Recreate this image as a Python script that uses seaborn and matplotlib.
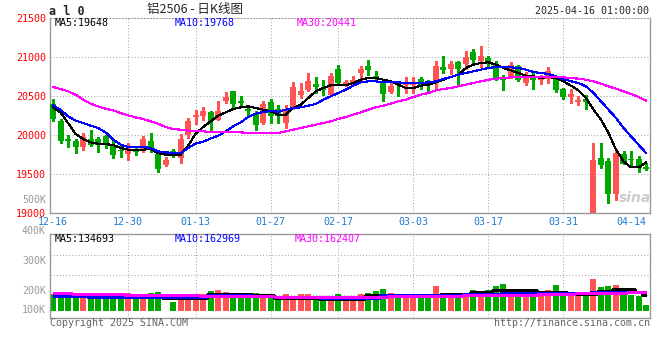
import matplotlib
matplotlib.use("Agg")
import matplotlib.pyplot as plt
import seaborn as sns
import pandas as pd

# trading days shown on the chart (MM-DD)
dates = ["12-16", "12-17", "12-18", "12-19", "12-20", "12-23", "12-24", "12-25", "12-26", "12-27",
         "12-30", "12-31", "01-02", "01-03", "01-06", "01-07", "01-08", "01-09", "01-10", "01-13",
         "01-14", "01-15", "01-16", "01-17", "01-20", "01-21", "01-22", "01-23", "01-24", "01-27",
         "02-05", "02-06", "02-07", "02-10", "02-11", "02-12", "02-13", "02-14", "02-17", "02-18",
         "02-19", "02-20", "02-21", "02-24", "02-25", "02-26", "02-27", "02-28", "03-03", "03-04",
         "03-05", "03-06", "03-07", "03-10", "03-11", "03-12", "03-13", "03-14", "03-17", "03-18",
         "03-19", "03-20", "03-21", "03-24", "03-25", "03-26", "03-27", "03-28", "03-31", "04-01",
         "04-02", "04-03", "04-07", "04-08", "04-09", "04-10", "04-11", "04-14", "04-15", "04-16"]

opens = [20400, 20175, 19955, 19925, 19840, 19955, 19955, 19985, 19875, 19810,
         19760, 19810, 19800, 19925, 19755, 19620, 19790, 19705, 20005, 20225,
         20250, 20290, 20195, 20430, 20560, 20440, 20335, 20280, 20155, 20425,
         20335, 20155, 20335, 20515, 20580, 20655, 20605, 20515, 20850, 20645,
         20665, 20795, 20880, 20760, 20690, 20550, 20665, 20635, 20645, 20720,
         20675, 20665, 20870, 20850, 20930, 20915, 21065, 20945, 20985, 20915,
         20720, 20750, 20880, 20665, 20760, 20700, 20720, 20720, 20590, 20485,
         20425, 20460, 18950, 19710, 19670, 19240, 19755, 19690, 19690, 19595]
highs = [20460, 20210, 20005, 19955, 20025, 20060, 19970, 20005, 19920, 19865,
         19895, 19845, 19990, 20025, 19770, 19720, 19825, 20015, 20220, 20325,
         20365, 20305, 20430, 20545, 20560, 20495, 20380, 20305, 20430, 20460,
         20390, 20390, 20680, 20665, 20795, 20740, 20700, 20795, 20895, 20710,
         20760, 20880, 20965, 20815, 20710, 20680, 20690, 20740, 20740, 20740,
         20710, 20955, 21010, 20955, 20955, 21075, 21105, 21135, 21015, 20945,
         20775, 20930, 20900, 20805, 20795, 20775, 20870, 20745, 20605, 20590,
         20495, 20515, 19900, 19900, 19705, 19815, 19790, 19790, 19725, 19635]
lows = [20175, 19895, 19840, 19770, 19810, 19865, 19780, 19830, 19705, 19720,
        19685, 19740, 19780, 19780, 19525, 19605, 19720, 19640, 19960, 20145,
        20195, 20035, 20195, 20410, 20335, 20365, 20250, 20060, 20145, 20160,
        20155, 20090, 20335, 20475, 20560, 20540, 20515, 20515, 20645, 20625,
        20635, 20690, 20775, 20690, 20430, 20540, 20495, 20540, 20540, 20590,
        20560, 20590, 20795, 20785, 20635, 20845, 20925, 20870, 20880, 20710,
        20575, 20730, 20690, 20645, 20590, 20660, 20665, 20545, 20460, 20410,
        20390, 20335, 18900, 19580, 19130, 19165, 19630, 19605, 19530, 19545]
closes = [20210, 19920, 19920, 19840, 19975, 19875, 19875, 19885, 19750, 19800,
          19810, 19780, 19950, 19835, 19565, 19685, 19740, 19955, 20175, 20260,
          20305, 20175, 20305, 20485, 20400, 20410, 20310, 20125, 20395, 20240,
          20240, 20335, 20610, 20560, 20690, 20610, 20580, 20750, 20665, 20680,
          20710, 20840, 20830, 20725, 20525, 20625, 20645, 20665, 20675, 20625,
          20635, 20880, 20830, 20910, 20845, 21000, 20965, 21010, 20925, 20720,
          20700, 20900, 20700, 20745, 20710, 20720, 20815, 20575, 20485, 20530,
          20445, 20420, 19680, 19615, 19240, 19765, 19630, 19675, 19575, 19560]

ma5 = [20355, 20290, 20154, 20013, 19949, 19906, 19889, 19884, 19872, 19833,
       19812, 19812, 19812, 19820, 19769, 19748, 19748, 19748, 19863, 20017,
       20102, 20175, 20248, 20290, 20333, 20355, 20367, 20346, 20325, 20303,
       20261, 20261, 20346, 20389, 20474, 20560, 20603, 20637, 20637, 20637,
       20667, 20709, 20731, 20731, 20709, 20688, 20645, 20603, 20603, 20632,
       20645, 20675, 20709, 20744, 20773, 20859, 20902, 20923, 20932, 20902,
       20859, 20829, 20795, 20761, 20752, 20731, 20744, 20731, 20688, 20632,
       20573, 20474, 20325, 20197, 20026, 19812, 19662, 19585, 19585, 19648]
ma10 = [20380, 20325, 20239, 20184, 20154, 20120, 20090, 20034, 19940, 19876,
        19846, 19846, 19846, 19833, 19790, 19778, 19769, 19769, 19833, 19889,
        19915, 19955, 19990, 20047, 20111, 20162, 20231, 20273, 20295, 20308,
        20299, 20325, 20346, 20355, 20376, 20397, 20453, 20496, 20538, 20581,
        20632, 20675, 20688, 20688, 20675, 20675, 20675, 20667, 20667, 20667,
        20675, 20688, 20718, 20744, 20773, 20795, 20816, 20838, 20859, 20872,
        20872, 20868, 20859, 20838, 20808, 20795, 20782, 20752, 20718, 20688,
        20667, 20624, 20538, 20432, 20325, 20218, 20090, 19983, 19876, 19768]
ma30 = [20615, 20590, 20560, 20517, 20453, 20402, 20367, 20337, 20316, 20282,
        20252, 20226, 20205, 20175, 20145, 20102, 20077, 20068, 20056, 20047,
        20047, 20038, 20038, 20038, 20034, 20034, 20026, 20026, 20026, 20026,
        20026, 20047, 20068, 20090, 20111, 20132, 20154, 20175, 20205, 20231,
        20261, 20290, 20325, 20355, 20376, 20402, 20432, 20453, 20487, 20517,
        20538, 20573, 20590, 20603, 20624, 20645, 20667, 20688, 20709, 20722,
        20731, 20739, 20744, 20744, 20744, 20744, 20744, 20744, 20739, 20731,
        20722, 20709, 20688, 20658, 20624, 20594, 20560, 20526, 20487, 20441]

volume = [149000, 163000, 140000, 140000, 115000, 120000, 120000, 106000, 112000, 135000,
          155000, 106000, 106000, 155000, 163000, 0, 77000, 120000, 120000, 140000,
          149000, 172000, 183000, 163000, 149000, 115000, 129000, 155000, 129000, 120000,
          97000, 146000, 129000, 146000, 146000, 97000, 97000, 120000, 146000, 106000,
          106000, 146000, 155000, 172000, 192000, 155000, 135000, 135000, 135000, 120000,
          129000, 215000, 140000, 135000, 140000, 155000, 183000, 149000, 181000, 215000,
          229000, 178000, 178000, 155000, 155000, 149000, 183000, 226000, 155000, 149000,
          140000, 149000, 275000, 206000, 215000, 226000, 155000, 140000, 129000, 54000]
vol_ma5 = [140000, 135000, 135000, 135000, 135000, 135000, 120000, 120000, 120000, 120000,
           120000, 120000, 120000, 120000, 120000, 115000, 115000, 115000, 115000, 115000,
           115000, 149000, 149000, 149000, 149000, 149000, 149000, 140000, 140000, 140000,
           112000, 112000, 112000, 112000, 112000, 112000, 106000, 106000, 106000, 106000,
           106000, 106000, 135000, 135000, 135000, 135000, 135000, 135000, 135000, 135000,
           135000, 135000, 149000, 149000, 149000, 149000, 160000, 160000, 160000, 178000,
           178000, 178000, 178000, 178000, 178000, 163000, 163000, 163000, 163000, 150000,
           150000, 150000, 150000, 170000, 170000, 192000, 192000, 192000, 160000, 134693]
vol_ma10 = [129000, 129000, 129000, 129000, 129000, 120000, 120000, 120000, 120000, 120000,
            120000, 120000, 120000, 120000, 120000, 120000, 120000, 120000, 120000, 120000,
            120000, 135000, 135000, 135000, 135000, 135000, 135000, 129000, 129000, 129000,
            120000, 120000, 120000, 120000, 120000, 120000, 112000, 112000, 112000, 112000,
            112000, 112000, 112000, 112000, 135000, 135000, 135000, 135000, 135000, 135000,
            135000, 140000, 140000, 140000, 140000, 150000, 150000, 150000, 150000, 150000,
            158000, 158000, 158000, 158000, 158000, 158000, 158000, 158000, 158000, 158000,
            158000, 158000, 160000, 160000, 160000, 160000, 160000, 160000, 163000, 162969]
vol_ma30 = [155000, 155000, 155000, 148000, 148000, 148000, 142000, 142000, 142000, 142000,
            138000, 138000, 138000, 138000, 138000, 135000, 135000, 135000, 135000, 135000,
            131000, 131000, 131000, 131000, 131000, 131000, 131000, 131000, 131000, 131000,
            124000, 124000, 124000, 124000, 124000, 124000, 124000, 124000, 124000, 124000,
            122000, 122000, 122000, 122000, 122000, 125000, 125000, 125000, 125000, 125000,
            129000, 129000, 129000, 129000, 129000, 134000, 134000, 134000, 134000, 134000,
            140000, 140000, 140000, 140000, 140000, 146000, 146000, 146000, 146000, 146000,
            152000, 152000, 152000, 152000, 152000, 156000, 158000, 160000, 161000, 162407]

price_ticks = [19000, 19500, 20000, 20500, 21000, 21500]
date_ticks = ["12-16", "12-30", "01-13", "01-27", "02-17", "03-03", "03-17", "03-31", "04-14"]
vol_labels = ["500K", "400K", "300K", "200K", "100K"]

RED = "#ff5454"
GREEN = "#00a800"
GRID = "#aaaaaa"
BORDER = "#999999"
DATE_BLUE = "#1e7dd2"
MONO = "DejaVu Sans Mono"
FS = 7.2

df = pd.DataFrame({"date": dates, "open": opens, "high": highs, "low": lows, "close": closes,
                   "ma5": ma5, "ma10": ma10, "ma30": ma30, "volume": volume,
                   "vma5": vol_ma5, "vma10": vol_ma10, "vma30": vol_ma30})
df["pos"] = range(len(df))
df["dir"] = ["up" if c >= o else "down" for o, c in zip(df["open"], df["close"])]
df["color"] = df["dir"].map({"up": RED, "down": GREEN})

sns.set_theme(style="white")
plt.rcParams["font.family"] = [MONO]

W, H = 660, 360
fig = plt.figure(figsize=(W / 100, H / 100), dpi=100)


def box(l, t, r, b):
    return [l / W, 1 - b / H, (r - l) / W, (b - t) / H]


ax = fig.add_axes(box(50, 18, 650, 213))
axv = fig.add_axes(box(50, 234.3, 650, 318.3))
xlim = (-0.4, 79.53)
dots = (0, (1, 2))

# --- price panel ---
for y in price_ticks[1:-1]:
    ax.axhline(y, color=GRID, lw=0.75, ls=dots, zorder=0)
tick_pos = [dates.index(d) for d in date_ticks]
for p in tick_pos[1:-1]:
    ax.axvline(p, color=GRID, lw=0.75, ls=dots, zorder=0)

ax.vlines(df["pos"], df["low"], df["high"], colors=df["color"], lw=0.75,
          antialiased=False, zorder=2)
body_bottom = df[["open", "close"]].min(axis=1)
body_h = (df["close"] - df["open"]).abs().clip(lower=13)
ax.bar(df["pos"], body_h, bottom=body_bottom, width=0.8, color=df["color"], lw=0, zorder=3)

for col, c in [("ma5", "black"), ("ma10", "#0000ff"), ("ma30", "#ff00ff")]:
    sns.lineplot(data=df, x="pos", y=col, color=c, lw=0.8, antialiased=False, ax=ax, zorder=4)

ax.set_xlim(*xlim)
ax.set_ylim(19000, 21500)
ax.set_yticks(price_ticks)
ax.set_yticklabels([str(t) for t in price_ticks], color="#ff0000", fontsize=FS)
ax.set_xticks(tick_pos)
ax.set_xticklabels(date_ticks, color=DATE_BLUE, fontsize=FS)
ax.tick_params(length=0, pad=3)
ax.set_xlabel("")
ax.set_ylabel("")
for s in ["left", "bottom", "right"]:
    ax.spines[s].set_color(BORDER)
    ax.spines[s].set_linewidth(1)
ax.spines["top"].set_color(BORDER)
ax.spines["top"].set_linestyle(dots)
ax.spines["top"].set_linewidth(0.75)

# --- volume panel ---
sns.barplot(data=df, x="pos", y="volume", hue="dir", palette={"up": RED, "down": GREEN},
            native_scale=True, dodge=False, width=0.8, legend=False, saturation=1,
            linewidth=0, ax=axv, zorder=2)
for col, c in [("vma5", "black"), ("vma10", "#0000ff"), ("vma30", "#ff00ff")]:
    sns.lineplot(data=df, x="pos", y=col, color=c, lw=0.8, antialiased=False,
                 drawstyle="steps-mid", ax=axv, zorder=4)

vol_px = 8600  # volume units per pixel
base_y = 311.0  # pixel row of zero volume
axv.set_xlim(*xlim)
axv.set_ylim(-(318.3 - base_y) * vol_px, (base_y - 234.3) * vol_px)
for gy in [255, 275, 295]:
    axv.axhline((base_y - gy) * vol_px, color=GRID, lw=0.75, ls=dots, zorder=0)
for p in tick_pos[1:-1]:
    axv.axvline(p, color=GRID, lw=0.75, ls=dots, zorder=0)
axv.set_xticks([])
axv.set_yticks([])
axv.set_xlabel("")
axv.set_ylabel("")
for s in axv.spines.values():
    s.set_color(BORDER)
    s.set_linewidth(1)

# volume axis labels as drawn by the source chart
for lab, y in zip(vol_labels, [200, 231, 260.7, 290.7, 310]):
    fig.text(46 / W, 1 - y / H, lab, ha="right", va="center", color="#999999", fontsize=FS)

# --- texts ---
fig.text(49 / W, 1 - 11.5 / H, "a l 0", ha="left", va="center", fontsize=8.5, fontweight="bold")
fig.text(195 / W, 1 - 9 / H, "铝2506 - 日K线图", ha="center", va="center", fontsize=9,
         family=["Noto Sans CJK SC", "DejaVu Sans"])
fig.text(649 / W, 1 - 11.5 / H, "2025-04-16 01:00:00", ha="right", va="center", fontsize=FS)

fig.text(55 / W, 1 - 23.5 / H, f"MA5:{ma5[-1]}", ha="left", va="center", fontsize=FS, color="black")
fig.text(175 / W, 1 - 23.5 / H, f"MA10:{ma10[-1]}", ha="left", va="center", fontsize=FS, color="#0000ff")
fig.text(297 / W, 1 - 23.5 / H, f"MA30:{ma30[-1]}", ha="left", va="center", fontsize=FS, color="#ff00ff")

fig.text(55 / W, 1 - 238.5 / H, f"MA5:{vol_ma5[-1]}", ha="left", va="center", fontsize=FS, color="black")
fig.text(175 / W, 1 - 238.5 / H, f"MA10:{vol_ma10[-1]}", ha="left", va="center", fontsize=FS, color="#0000ff")
fig.text(295 / W, 1 - 238.5 / H, f"MA30:{vol_ma30[-1]}", ha="left", va="center", fontsize=FS, color="#ff00ff")

fig.text(50 / W, 1 - 323.5 / H, "Copyright 2025 SINA.COM", ha="left", va="center", fontsize=FS, color="#666666")
fig.text(650 / W, 1 - 323.5 / H, "http://finance.sina.com.cn", ha="right", va="center", fontsize=FS, color="#666666")

# faint watermark
fig.text(635 / W, 1 - 198 / H, "sina", ha="center", va="center", fontsize=10, fontweight="bold",
         fontstyle="italic", color="#cccccc", family="DejaVu Sans", zorder=1)

fig.savefig("out.png", dpi=100)
